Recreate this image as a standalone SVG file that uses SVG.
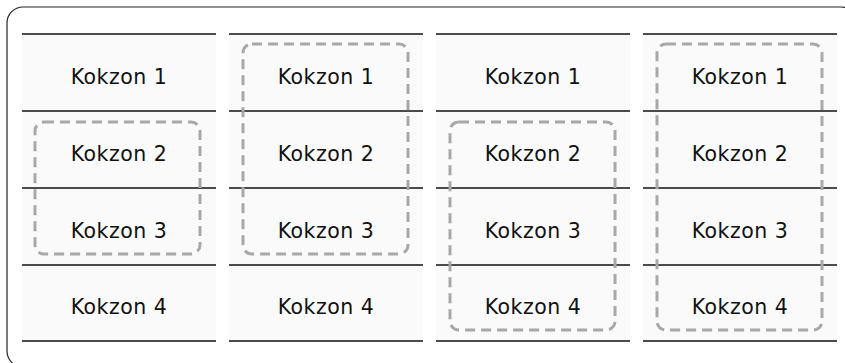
<svg xmlns="http://www.w3.org/2000/svg" width="845" height="363" viewBox="0 0 845 363">
<style>
.cell{fill:#fafafa}
.ln{stroke:#111;stroke-width:1.5}
.dash{fill:none;stroke:#a8a8a8;stroke-width:3;stroke-dasharray:10 6;stroke-linecap:butt}
.t{font-family:"DejaVu Sans",sans-serif;font-size:20.5px;letter-spacing:0.5px;fill:#111;text-anchor:middle;dominant-baseline:central}
</style>
<rect x="7" y="7" width="850" height="360" rx="16" fill="#fff" stroke="#222" stroke-width="1.2"/>
<g id="col1">
<rect class="cell" x="22" y="34" width="194" height="307"/>
<line class="ln" x1="22" y1="34" x2="216" y2="34"/><line class="ln" x1="22" y1="111" x2="216" y2="111"/><line class="ln" x1="22" y1="188" x2="216" y2="188"/><line class="ln" x1="22" y1="265" x2="216" y2="265"/><line class="ln" x1="22" y1="341" x2="216" y2="341"/>
<text class="t" x="119" y="77">Kokzon 1</text><text class="t" x="119" y="154">Kokzon 2</text><text class="t" x="119" y="231">Kokzon 3</text><text class="t" x="119" y="307">Kokzon 4</text>
<rect class="dash" x="35" y="122" width="165" height="132" rx="9"/>
</g>
<g id="col2">
<rect class="cell" x="229" y="34" width="194" height="307"/>
<line class="ln" x1="229" y1="34" x2="423" y2="34"/><line class="ln" x1="229" y1="111" x2="423" y2="111"/><line class="ln" x1="229" y1="188" x2="423" y2="188"/><line class="ln" x1="229" y1="265" x2="423" y2="265"/><line class="ln" x1="229" y1="341" x2="423" y2="341"/>
<text class="t" x="326" y="77">Kokzon 1</text><text class="t" x="326" y="154">Kokzon 2</text><text class="t" x="326" y="231">Kokzon 3</text><text class="t" x="326" y="307">Kokzon 4</text>
<rect class="dash" x="243" y="44" width="165" height="210" rx="9"/>
</g>
<g id="col3">
<rect class="cell" x="436" y="34" width="194" height="307"/>
<line class="ln" x1="436" y1="34" x2="630" y2="34"/><line class="ln" x1="436" y1="111" x2="630" y2="111"/><line class="ln" x1="436" y1="188" x2="630" y2="188"/><line class="ln" x1="436" y1="265" x2="630" y2="265"/><line class="ln" x1="436" y1="341" x2="630" y2="341"/>
<text class="t" x="533" y="77">Kokzon 1</text><text class="t" x="533" y="154">Kokzon 2</text><text class="t" x="533" y="231">Kokzon 3</text><text class="t" x="533" y="307">Kokzon 4</text>
<rect class="dash" x="450" y="122" width="165" height="208" rx="9"/>
</g>
<g id="col4">
<rect class="cell" x="643" y="34" width="194" height="307"/>
<line class="ln" x1="643" y1="34" x2="837" y2="34"/><line class="ln" x1="643" y1="111" x2="837" y2="111"/><line class="ln" x1="643" y1="188" x2="837" y2="188"/><line class="ln" x1="643" y1="265" x2="837" y2="265"/><line class="ln" x1="643" y1="341" x2="837" y2="341"/>
<text class="t" x="740" y="77">Kokzon 1</text><text class="t" x="740" y="154">Kokzon 2</text><text class="t" x="740" y="231">Kokzon 3</text><text class="t" x="740" y="307">Kokzon 4</text>
<rect class="dash" x="657" y="44" width="165" height="286" rx="9"/>
</g>
<g id="connectors"/>
</svg>
